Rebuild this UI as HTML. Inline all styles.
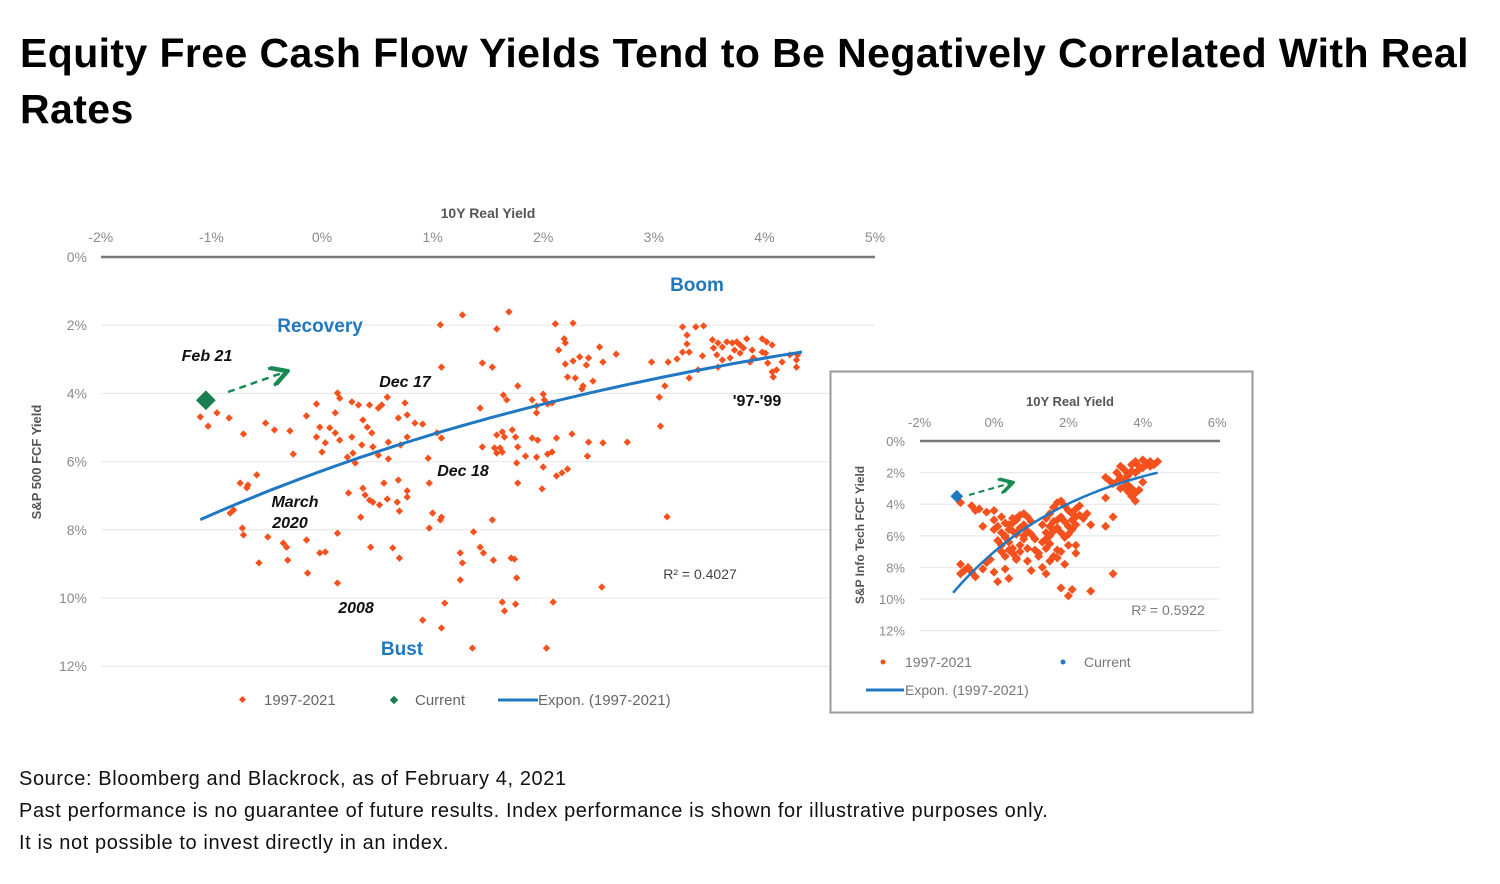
<!DOCTYPE html>
<html><head><meta charset="utf-8">
<style>
html,body{margin:0;padding:0;background:#fff;width:1500px;height:884px;overflow:hidden;font-family:"Liberation Sans",sans-serif;}
#title{position:absolute;left:20px;top:25px;width:1460px;font-size:41px;letter-spacing:0.4px;font-weight:bold;line-height:56px;color:#000;margin:0;}
.foot{position:absolute;left:19px;font-size:20px;letter-spacing:0.6px;color:#111;margin:0;}
svg{position:absolute;left:0;top:0;}
</style></head><body>
<h1 id="title">Equity Free Cash Flow Yields Tend to Be Negatively Correlated With Real Rates</h1>
<p class="foot" style="top:768px">Source: Bloomberg and Blackrock, as of February 4, 2021</p>
<p class="foot" style="top:800px">Past performance is no guarantee of future results. Index performance is shown for illustrative purposes only.</p>
<p class="foot" style="top:832px">It is not possible to invest directly in an index.</p>
<svg id="chart" width="1500" height="884"></svg>
<script>
// ---------- main chart data ----------
const mainXTicks = [-2,-1,0,1,2,3,4,5];
const mainYTicks = [0,2,4,6,8,10,12];
const mainX = [-1.10,-1.03,-0.95,-0.84,-0.71,-0.51,-0.43,-0.29,-0.26,-0.14,-0.05,0.14,0.16,0.27,0.33,0.43,0.51,0.54,0.59,0.75,0.69,0.77,0.84,0.91,0.12,-0.02,0.07,0.12,0.03,-0.05,0.00,0.16,0.27,0.37,0.41,0.45,0.36,0.28,0.23,0.30,0.46,0.51,0.60,0.60,0.71,0.77,0.96,1.04,1.08,1.43,1.08,1.07,1.27,1.45,1.54,1.45,1.56,
-0.74,-0.67,-0.59,-0.68,-0.83,-0.80,-0.72,-0.71,-0.49,-0.35,-0.32,-0.31,-0.57,-0.14,-0.13,-0.02,0.03,0.14,0.14,0.24,0.37,0.39,0.43,0.46,0.52,0.56,0.59,0.69,0.68,0.77,0.77,0.70,0.35,0.44,0.64,0.70,0.97,0.97,1.00,1.08,1.07,1.11,0.91,1.08,1.36,1.54,1.37,1.43,1.46,1.25,1.27,1.25,1.55,
1.69,1.58,2.11,2.27,2.19,2.20,2.14,1.77,2.20,2.27,2.33,2.41,2.39,2.51,2.54,2.66,2.22,2.29,2.45,2.36,2.35,1.64,1.67,1.90,1.94,2.00,2.01,2.04,2.08,1.94,1.58,1.63,1.65,1.72,1.75,1.61,1.58,1.63,1.77,1.76,1.84,1.90,1.95,1.94,2.00,2.04,2.08,2.12,2.26,2.41,2.54,2.76,2.40,2.12,2.17,2.22,1.77,1.99,1.71,1.74,1.76,2.53,1.63,1.65,1.75,2.09,2.03,
3.12,3.06,3.05,3.10,2.98,3.13,3.21,3.26,3.38,3.45,3.30,3.30,3.32,3.26,3.44,3.32,3.40,3.53,3.54,3.58,3.62,3.66,3.71,3.75,3.78,3.84,3.73,3.78,3.57,3.62,3.69,3.81,3.89,3.90,3.98,4.02,4.07,3.98,4.01,4.03,4.07,4.08,4.11,4.16,4.23,4.29,4.30,4.29,3.58,3.87];
const mainY = [4.69,4.96,4.57,4.72,5.19,4.87,5.07,5.10,5.78,4.66,4.31,3.99,4.14,4.25,4.34,4.34,4.43,4.34,4.11,4.28,4.72,4.63,4.87,4.90,4.57,4.99,5.01,5.16,5.45,5.28,5.72,5.37,5.28,4.78,4.99,5.16,5.51,5.75,5.87,6.04,5.57,5.81,5.43,5.92,5.51,5.28,5.90,5.16,5.31,4.43,3.23,1.99,1.70,3.11,3.23,5.57,5.60,
6.63,6.69,6.39,6.77,7.51,7.42,7.95,8.15,8.21,8.39,8.51,8.89,8.97,8.30,9.27,8.68,8.65,8.10,9.56,6.92,6.78,6.98,7.13,7.19,7.27,6.63,7.10,6.54,7.19,6.86,7.04,7.45,7.63,8.51,8.53,8.83,6.63,7.95,7.51,7.63,7.71,10.15,10.65,10.88,11.47,7.71,8.06,8.51,8.68,8.68,8.97,9.47,8.89,
1.61,2.11,1.96,1.94,2.40,2.52,2.73,3.78,3.14,3.05,2.93,2.96,3.17,2.64,3.08,2.85,3.52,3.55,3.64,3.78,3.87,4.05,4.19,4.19,4.37,4.02,4.19,4.31,4.28,4.57,5.22,5.13,5.28,5.07,5.28,5.60,5.75,5.72,5.57,6.04,5.84,5.31,5.37,5.87,6.16,5.78,5.72,5.31,5.19,5.43,5.45,5.43,5.84,6.42,6.33,6.22,6.63,6.80,8.83,8.86,9.41,9.68,10.12,10.38,10.18,10.12,11.47,
7.62,4.96,4.11,3.78,3.08,3.08,2.99,2.05,2.05,2.02,2.29,2.55,2.79,2.79,2.90,3.55,3.31,2.43,2.67,2.52,2.64,2.49,2.52,2.49,2.58,2.40,2.73,2.82,2.87,3.02,2.96,2.67,2.73,2.96,2.40,2.49,2.58,2.79,2.82,3.11,3.37,3.52,3.31,3.08,2.87,3.02,2.87,3.23,3.23,3.08];
const mainCurrent = [-1.05, 4.20];
const mainTrendA = 6.27, mainTrendB = -0.187, mainTrendRange = [-1.10, 4.34];

// ---------- inset chart data ----------
const insetXTicks = [-2,0,2,4,6];
const insetYTicks = [0,2,4,6,8,10,12];
const insetX = [-0.9,-0.6,-0.4,-0.2,-0.5,-0.3,0.0,-0.9,-0.8,-0.7,-0.6,-0.9,-0.5,-0.3,-0.2,0.0,0.1,0.3,0.4,-0.1,
0.0,0.1,0.2,0.3,0.4,0.5,0.6,0.7,0.8,0.9,1.0,0.1,0.2,0.3,0.4,0.5,0.6,0.7,0.8,0.9,1.0,1.1,0.2,0.3,0.4,0.5,0.6,0.7,0.8,0.9,0.4,0.5,0.6,0.7,0.8,0.5,0.6,0.7,0.9,1.1,1.2,0.3,0.0,0.2,
1.3,1.4,1.5,1.6,1.7,1.8,1.9,2.0,2.1,2.2,2.3,1.4,1.5,1.6,1.7,1.8,1.9,2.0,2.1,2.2,2.3,2.4,1.3,1.4,1.5,1.6,1.7,1.8,1.9,2.0,2.1,2.2,1.2,1.4,1.6,1.8,2.0,1.3,1.5,1.7,1.9,2.5,2.6,1.5,1.7,
3.0,3.1,3.2,3.3,3.4,3.5,3.6,3.7,3.8,3.9,4.0,4.1,4.2,4.3,4.4,3.3,3.4,3.5,3.6,3.7,3.8,3.9,4.0,4.1,4.2,3.4,3.5,3.6,3.7,3.8,3.9,4.0,3.6,3.7,3.8,
1.4,1.0,1.8,2.0,2.1,2.6,3.2,2.2,2.2,3.0,3.2,3.0];
const insetY = [3.9,4.1,4.3,4.5,4.4,5.4,4.4,7.8,8.2,8.0,8.3,8.4,8.6,8.1,7.7,8.3,8.9,8.1,8.7,7.5,
5.0,5.4,5.8,6.1,5.6,5.2,4.9,4.7,4.6,4.8,5.1,6.3,6.6,6.0,6.4,6.8,5.9,5.5,5.3,5.7,5.9,6.2,7.0,7.3,6.9,7.1,7.5,6.6,6.2,6.8,5.3,4.9,5.0,5.6,6.0,5.7,7.4,7.0,7.6,6.9,7.3,5.2,5.6,4.8,
5.3,4.9,4.6,4.2,3.9,3.8,4.1,4.4,4.6,4.3,4.1,5.8,5.4,5.1,5.0,4.8,5.1,5.4,5.0,4.8,4.7,4.9,6.4,6.2,6.0,5.7,5.5,5.8,6.1,5.9,5.6,5.3,7.1,6.8,7.3,7.0,6.6,8.0,7.6,7.4,7.8,4.6,5.3,6.5,6.9,
2.3,2.5,2.7,2.0,1.6,1.8,2.2,1.5,1.3,1.6,1.2,1.4,1.3,1.5,1.3,2.6,2.3,2.5,2.1,1.9,2.0,1.8,1.7,1.5,1.6,3.0,2.9,3.2,3.5,3.8,3.1,2.6,2.8,3.0,3.3,
8.4,8.2,9.3,9.8,9.4,9.5,8.4,6.6,7.1,5.4,4.8,3.6];
const insetCurrent = [-1.0, 3.5];
const insetTrendA = 7.02, insetTrendB = -0.285, insetTrendRange = [-1.10, 4.40];

const NS = 'http://www.w3.org/2000/svg';
const svg = document.getElementById('chart');
function mk(tag, attrs, parent){ const e=document.createElementNS(NS,tag); for(const k in attrs) e.setAttribute(k,attrs[k]); (parent||svg).appendChild(e); return e; }
function txt(x,y,s,style,parent){ const t=mk('text',Object.assign({x:x,y:y},style),parent); t.textContent=s; return t; }

const mx = v => 322 + 110.6*v;
const my = v => 257 + 34.1*v;
const ix = v => 994 + 37.2*v;
const iy = v => 441 + 15.8*v;

const ORANGE = '#f4511e', BLUE = '#1f78c1', GREEN = '#1a7f4f', GRAY='#8a8a8a';

// ---------- main chart ----------
const gMain = mk('g',{});


mainYTicks.forEach(v=>{
  const l = mk('line',{x1:101,x2:875,y1:my(v),y2:my(v),stroke: v===0?'#777':'#e6e6e6','stroke-width': v===0?2.5:1},gMain);
  
  
  const t = txt(87,my(v)+5,v+'%',{'text-anchor':'end','font-size':14,fill:GRAY},gMain);
  
  
});
mainXTicks.forEach(v=>{
  const t = txt(mx(v),242,v+'%',{'text-anchor':'middle','font-size':14,fill:GRAY},gMain);
  
  
});
let t;
t = txt(488,218,'10Y Real Yield',{'text-anchor':'middle','font-size':14,'font-weight':'bold',fill:'#555'},gMain);


t = txt(0,0,'S&P 500 FCF Yield',{'text-anchor':'middle','font-size':13,'font-weight':'bold',fill:'#555',transform:'translate(41,462) rotate(-90)'},gMain);



function trendPath(A,B,r,sx,sy){ let d=''; for(let i=0;i<=60;i++){ const x=r[0]+(r[1]-r[0])*i/60; const y=A*Math.exp(B*x); d+=(i?'L':'M')+sx(x).toFixed(1)+','+sy(y).toFixed(1);} return d; }

mainX.forEach((x,i)=>{
  const cx=mx(x), cy=my(mainY[i]);
  const p = mk('rect',{x:cx-2.6,y:cy-2.6,width:5.2,height:5.2,fill:ORANGE,transform:`rotate(45 ${cx} ${cy})`},gMain);
  
  
});
const tl = mk('path',{d:trendPath(mainTrendA,mainTrendB,mainTrendRange,mx,my),fill:'none',stroke:BLUE,'stroke-width':3},gMain);



{
  const cx=mx(mainCurrent[0]), cy=my(mainCurrent[1]);
  const c = mk('rect',{x:cx-7,y:cy-7,width:14,height:14,fill:GREEN,transform:`rotate(45 ${cx} ${cy})`},gMain);
  
  
}
mk('defs',{}).innerHTML = '<marker id="ah" markerWidth="8" markerHeight="8" refX="6" refY="4" orient="auto"><path d="M0,0 L7,4 L0,8" fill="none" stroke="#1a8a55" stroke-width="1.8"/></marker>';
let a = mk('line',{x1:228,y1:392,x2:285,y2:372,stroke:'#1a8a55','stroke-width':2.5,'stroke-dasharray':'7,5','marker-end':'url(#ah)'},gMain);



const ann = [
  ['Boom',697,291,'boom-label',{fill:BLUE,'font-size':19,'font-weight':'bold'}],
  ['Recovery',320,332,'recovery-label',{fill:BLUE,'font-size':19,'font-weight':'bold'}],
  ['Bust',402,655,'bust-label',{fill:BLUE,'font-size':19,'font-weight':'bold'}],
  ['Feb 21',207,361,'feb21-label',{fill:'#111','font-size':16,'font-weight':'bold','font-style':'italic'}],
  ['Dec 17',405,387,'dec17-label',{fill:'#111','font-size':16,'font-weight':'bold','font-style':'italic'}],
  ['Dec 18',463,476,'dec18-label',{fill:'#111','font-size':16,'font-weight':'bold','font-style':'italic'}],
  ['March',295,507,'march-label',{fill:'#111','font-size':16,'font-weight':'bold','font-style':'italic'}],
  ['2020',290,528,'2020-label',{fill:'#111','font-size':16,'font-weight':'bold','font-style':'italic'}],
  ['2008',356,613,'2008-label',{fill:'#111','font-size':16,'font-weight':'bold','font-style':'italic'}],
  ["'97-'99",757,406,'97-99-label',{fill:'#111','font-size':16,'font-weight':'bold'}],
  ['R² = 0.4027',700,579,'main-r2-label',{fill:'#444','font-size':14}]
];
ann.forEach(([s,x,y,n,st])=>{
  const e = txt(x,y,s,Object.assign({'text-anchor':'middle'},st),gMain);
  
  
});
const lg = mk('g',{},gMain);


mk('rect',{x:240,y:697,width:5,height:5,fill:ORANGE,transform:'rotate(45 242.5 699.5)'},lg);
txt(264,705,'1997-2021',{'font-size':15,fill:'#666'},lg);
mk('rect',{x:391,y:697,width:6,height:6,fill:GREEN,transform:'rotate(45 394 700)'},lg);
txt(415,705,'Current',{'font-size':15,fill:'#666'},lg);
mk('line',{x1:498,x2:538,y1:700,y2:700,stroke:BLUE,'stroke-width':3},lg);
txt(538,705,'Expon. (1997-2021)',{'font-size':15,fill:'#666'},lg);

// ---------- inset chart ----------
const gIn = mk('g',{});


const box = mk('rect',{x:830.5,y:371.5,width:422,height:341,fill:'#fff',stroke:'#999','stroke-width':2},gIn);


insetYTicks.forEach(v=>{
  const l = mk('line',{x1:920,x2:1220,y1:iy(v),y2:iy(v),stroke: v===0?'#777':'#e6e6e6','stroke-width': v===0?2.5:1},gIn);
  
  
  const tt = txt(905,iy(v)+5,v+'%',{'text-anchor':'end','font-size':13,fill:GRAY},gIn);
  
  
});
insetXTicks.forEach(v=>{
  const tt = txt(ix(v),427,v+'%',{'text-anchor':'middle','font-size':13,fill:GRAY},gIn);
  
  
});
t = txt(1070,406,'10Y Real Yield',{'text-anchor':'middle','font-size':13,'font-weight':'bold',fill:'#555'},gIn);


t = txt(0,0,'S&P Info Tech FCF Yield',{'text-anchor':'middle','font-size':12,'font-weight':'bold',fill:'#555',transform:'translate(864,535) rotate(-90)'},gIn);


insetX.forEach((x,i)=>{
  const cx=ix(x), cy=iy(insetY[i]);
  const p = mk('rect',{x:cx-3.2,y:cy-3.2,width:6.4,height:6.4,fill:ORANGE,transform:`rotate(45 ${cx} ${cy})`},gIn);
  
  
});
const tl2 = mk('path',{d:trendPath(insetTrendA,insetTrendB,insetTrendRange,ix,iy),fill:'none',stroke:BLUE,'stroke-width':2.5},gIn);


{
  const cx=ix(insetCurrent[0]), cy=iy(insetCurrent[1]);
  const c = mk('rect',{x:cx-4.5,y:cy-4.5,width:9,height:9,fill:BLUE,transform:`rotate(45 ${cx} ${cy})`},gIn);
  
  
}
a = mk('line',{x1:969,y1:495,x2:1011,y2:483,stroke:'#1a8a55','stroke-width':2,'stroke-dasharray':'6,4','marker-end':'url(#ah)'},gIn);


t = txt(1168,615,'R² = 0.5922',{'text-anchor':'middle','font-size':14,fill:'#777'},gIn);


const lg2 = mk('g',{},gIn);


mk('circle',{cx:883,cy:662,r:2.5,fill:ORANGE},lg2);
txt(905,667,'1997-2021',{'font-size':14,fill:'#777'},lg2);
mk('circle',{cx:1063,cy:662,r:2.5,fill:BLUE},lg2);
txt(1084,667,'Current',{'font-size':14,fill:'#777'},lg2);
mk('line',{x1:866,x2:904,y1:690,y2:690,stroke:BLUE,'stroke-width':3},lg2);
txt(905,695,'Expon. (1997-2021)',{'font-size':14,fill:'#777'},lg2);
</script>
</body></html>
